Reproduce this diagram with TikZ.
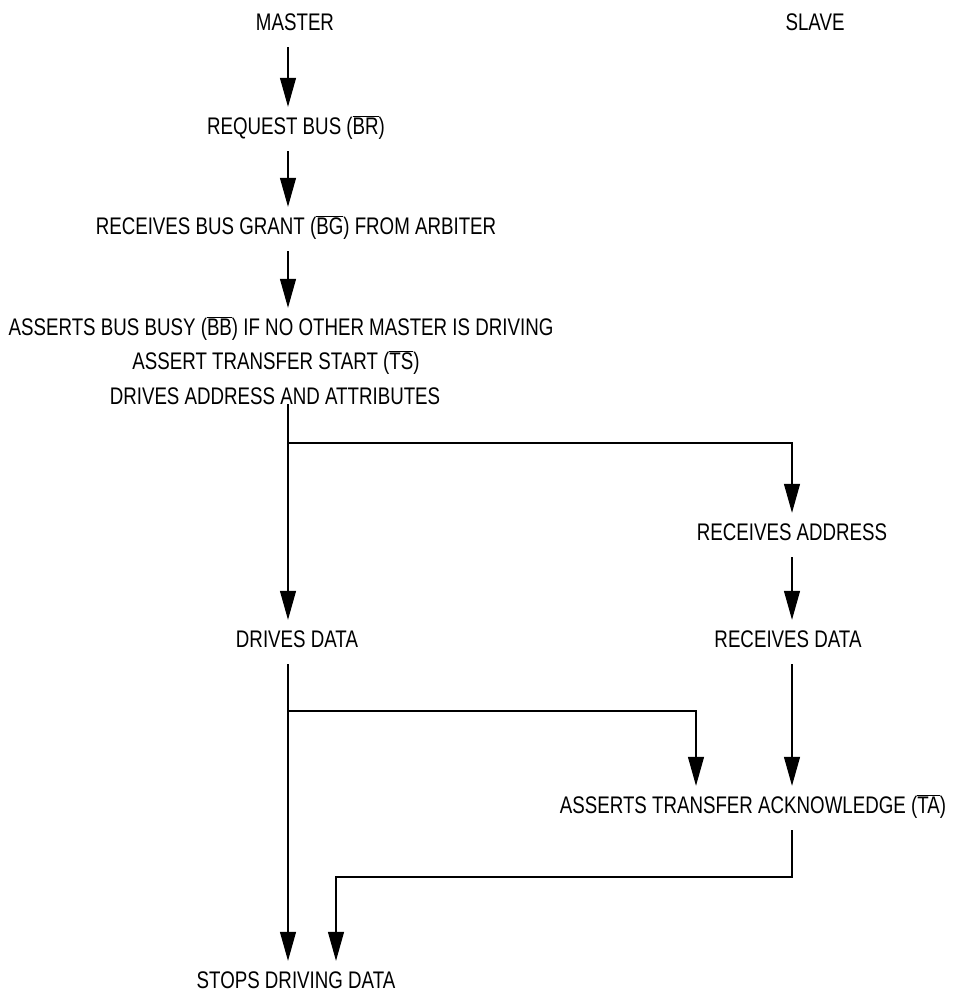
\documentclass[tikz,border=0pt]{standalone}
\usepackage{fontspec}
\setmainfont{Liberation Sans}[FakeStretch=0.78]
\usepackage{tikz}
\usetikzlibrary{arrows.meta}
\newcommand{\ovsig}[1]{$\overline{\mbox{#1}}$}

\begin{document}
\begin{tikzpicture}[x=1pt, y=-1pt,
  lbl/.style={anchor=base, inner xsep=0pt, inner ysep=0pt,
              text height=27pt, text depth=17pt,
              font=\fontsize{24}{28}\selectfont},
  arr/.style={-{Triangle[length=29pt, width=16pt]}, line width=1.2pt}
]
  \useasboundingbox (0,0) rectangle (969,997);
  \coordinate (mcol) at (288,0);
  \coordinate (scol) at (792,0);
  \coordinate (ackin) at (696,0);
  \node[lbl] (master) at (295,30)  {MASTER};
  \node[lbl] (slave) at (815,30)  {SLAVE};
  \node[lbl] (reqbus) at (296,134) {REQUEST BUS (\ovsig{BR})};
  \node[lbl] (grant) at (296,234) {RECEIVES BUS GRANT (\ovsig{BG}) FROM ARBITER};
  \node[lbl] (busy) at (281,335) {ASSERTS BUS BUSY (\ovsig{BB}) IF NO OTHER MASTER IS DRIVING};
  \node[lbl] (tstart) at (276,369) {ASSERT TRANSFER START (\ovsig{TS})};
  \node[lbl] (drvaddr) at (275,404) {DRIVES ADDRESS AND ATTRIBUTES};
  \node[lbl] (rcvaddr) at (792,540) {RECEIVES ADDRESS};
  \node[lbl] (rcvdata) at (788,647) {RECEIVES DATA};
  \node[lbl] (drvdata) at (297,647) {DRIVES DATA};
  \node[lbl] (ack) at (753,813) {ASSERTS TRANSFER ACKNOWLEDGE (\ovsig{TA})};
  \node[lbl] (stops) at (296,988) {STOPS DRIVING DATA};
  \coordinate (fork1) at (288,443);
  \coordinate (fork2) at (288,711);
  \coordinate (ret) at (336,877);
  \draw[arr] (master.south -| mcol) -- (reqbus.north -| mcol);
  \draw[arr] (reqbus.south -| mcol) -- (grant.north -| mcol);
  \draw[arr] (grant.south -| mcol) -- (busy.north -| mcol);
  \draw[arr] (drvaddr.base -| mcol) -- (drvdata.north -| mcol);
  \draw[arr] (fork1) -| (rcvaddr.north -| scol);
  \draw[arr] (rcvaddr.south -| scol) -- (rcvdata.north -| scol);
  \draw[arr] (drvdata.south -| mcol) -- (stops.north -| mcol);
  \draw[arr] (fork2) -| (ack.north -| ackin);
  \draw[arr] (rcvdata.south -| scol) -- (ack.north -| scol);
  \draw[arr] (ack.south -| scol) |- (ret) -- (stops.north -| ret);
\end{tikzpicture}
\end{document}
